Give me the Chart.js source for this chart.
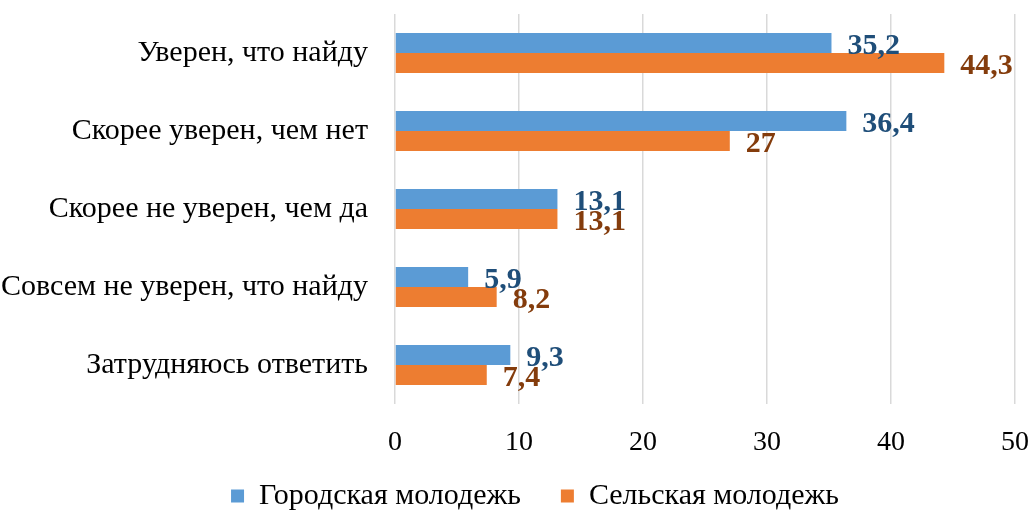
<!DOCTYPE html>
<html>
<head>
<meta charset="utf-8">
<script src="https://cdn.jsdelivr.net/npm/chart.js@4/dist/chart.umd.min.js"></script>
<style>
  html, body { margin: 0; padding: 0; background: #fff; }
  #wrap { width: 1032px; height: 510px; }
</style>
</head>
<body>
<div id="wrap"><canvas id="chart" width="1032" height="510"></canvas></div>
<script>
  const categories = [
    "Уверен, что найду",
    "Скорее уверен, чем нет",
    "Скорее не уверен, чем да",
    "Совсем не уверен, что найду",
    "Затрудняюсь ответить"
  ];
  const urbanValues = [35.2, 36.4, 13.1, 5.9, 9.3];
  const ruralValues = [44.3, 27, 13.1, 8.2, 7.4];
  const xTicks = [0, 10, 20, 30, 40, 50];

  const FONT = "'Liberation Serif', 'Times New Roman', serif";

  // data labels next to each bar end, comma as decimal separator
  const valueLabels = {
    id: "valueLabels",
    afterDatasetsDraw(chart) {
      const ctx = chart.ctx;
      ctx.save();
      ctx.font = `bold 30px ${FONT}`;
      ctx.textAlign = "left";
      ctx.textBaseline = "middle";
      chart.data.datasets.forEach((ds, di) => {
        const meta = chart.getDatasetMeta(di);
        ctx.fillStyle = ds.labelColor;
        meta.data.forEach((bar, i) => {
          const text = String(ds.data[i]).replace(".", ",");
          ctx.fillText(text, bar.x + 16, bar.y + 3);
        });
      });
      ctx.restore();
    }
  };

  // legend keeps its wide item gap but not its tall box; x labels not clipped
  const layoutTweaks = {
    id: "layoutTweaks",
    beforeLayout(chart) {
      const lg = chart.legend;
      if (!lg || lg._fixed) return;
      const fit = lg.fit;
      lg.fit = function () {
        fit.call(this);
        this.height = 69;
      };
      lg._fixed = true;
    },
    afterLayout(chart) {
      chart.legend.left += 19;
      chart.legend.right += 19;
      chart.scales.x.bottom = chart.height;
    }
  };

  new Chart(document.getElementById("chart"), {
    type: "bar",
    data: {
      labels: categories,
      datasets: [
        { label: "Городская молодежь", data: urbanValues, backgroundColor: "#5b9bd5", labelColor: "#1f4e79" },
        { label: "Сельская молодежь", data: ruralValues, backgroundColor: "#ed7d31", labelColor: "#843c0c" }
      ]
    },
    options: {
      indexAxis: "y",
      responsive: false,
      animation: false,
      barPercentage: 1,
      categoryPercentage: 0.51,
      layout: { padding: { top: 14, right: 0, bottom: 0, left: 0 } },
      plugins: {
        legend: {
          position: "bottom",
          labels: {
            font: { family: FONT, size: 30 },
            color: "#000",
            boxWidth: 13,
            boxHeight: 13,
            padding: 40
          }
        },
        tooltip: { enabled: false }
      },
      scales: {
        x: {
          min: 0,
          max: 50,
          afterBuildTicks: (axis) => { axis.ticks = xTicks.map((v) => ({ value: v })); },
          afterFit: (axis) => {
            axis.height = 37;
            axis.paddingLeft = 0;
            axis.paddingRight = 17;
          },
          grid: { color: "#d9d9d9", lineWidth: 1.5, drawTicks: false },
          border: { display: false },
          ticks: { font: { family: FONT, size: 28 }, color: "#000", padding: 22 }
        },
        y: {
          afterFit: (axis) => {
            axis.width = 395;
            axis.paddingTop = 0;
            axis.paddingBottom = 0;
          },
          grid: { display: false },
          border: { display: false },
          ticks: { font: { family: FONT, size: 30 }, color: "#000", padding: 19 }
        }
      }
    },
    plugins: [valueLabels, layoutTweaks]
  });
</script>
</body>
</html>
